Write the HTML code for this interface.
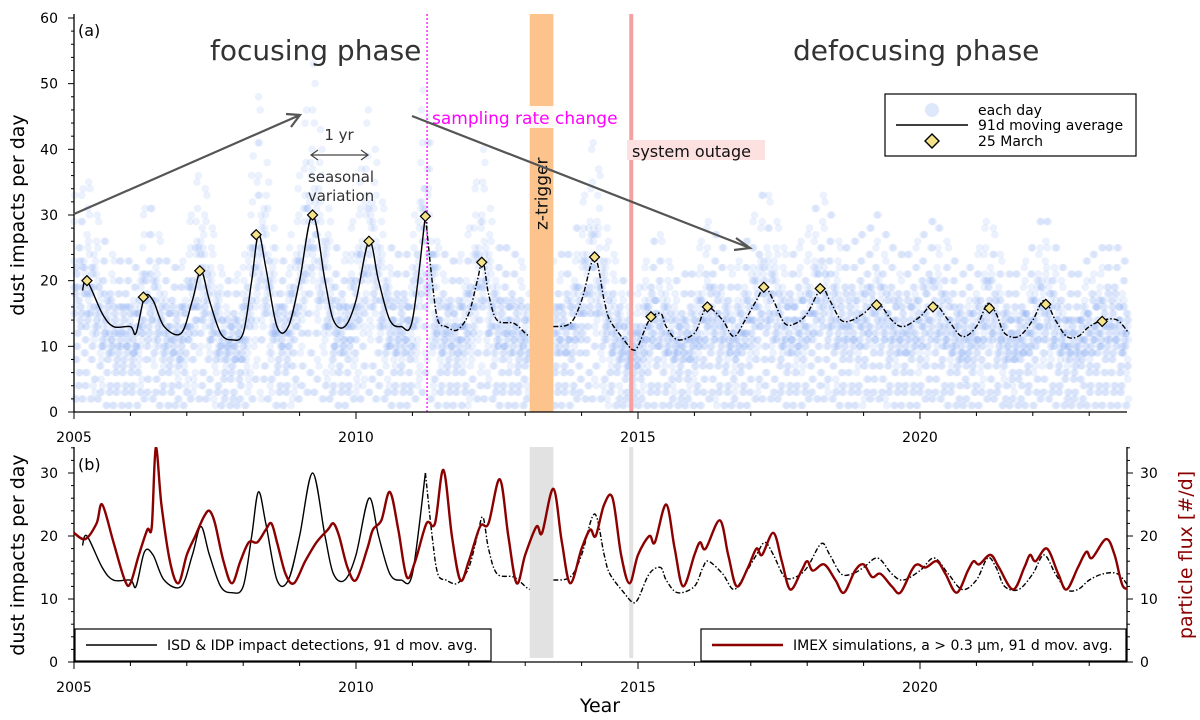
<!DOCTYPE html>
<html><head><meta charset="utf-8"><style>
html,body{margin:0;padding:0;background:#fff;}
svg{display:block;font-family:"DejaVu Sans","Liberation Sans",sans-serif;}
</style></head><body>
<svg id="chart" width="1200" height="720" viewBox="0 0 1200 720">
<g id="scatter"></g>
<g id="panelA"></g>
<g id="panelB"></g>
</svg>
<script>
// ---- data ----
const maYears = [2005.15,2005.23,2005.5,2005.7,2006.0,2006.1,2006.25,2006.4,2006.6,2006.9,2007.1,2007.25,2007.4,2007.6,2007.8,2008.0,2008.15,2008.27,2008.4,2008.6,2008.8,2009.0,2009.23,2009.45,2009.6,2009.8,2010.0,2010.23,2010.4,2010.6,2010.8,2011.0,2011.23,2011.35,2011.45,2011.6,2011.8,2012.0,2012.15,2012.25,2012.35,2012.5,2012.8,2013.0,2013.08,null,2013.5,2013.8,2014.0,2014.23,2014.4,2014.5,2014.75,2014.9,2015.0,2015.2,2015.4,2015.5,2015.7,2016.0,2016.15,2016.25,2016.5,2016.7,2016.9,2017.1,2017.25,2017.4,2017.6,2017.8,2018.0,2018.25,2018.4,2018.6,2018.8,2019.0,2019.25,2019.5,2019.7,2020.0,2020.25,2020.5,2020.75,2021.0,2021.2,2021.35,2021.5,2021.75,2022.0,2022.2,2022.4,2022.6,2022.8,2023.0,2023.25,2023.5,2023.7];
const maValues = [18.5,20,15,13,13,12,17.5,17,13,12,17,21.5,17,12,11,12,20,27,22,13,13,20,30,20,14,13,17,26,20,14,13,14,30,20,14,13,12.5,15,20,23,18,14,13.5,12,11.5,null,13,13.5,17,23.5,17,14,11,9.5,10,14,15,13,11,12,15,16,14,11.5,14,17,19,17,13.5,13.5,15,18.8,17,14,14,15,16.5,14,13,14.5,16.5,14,11.5,13,16.5,15,12,11.5,14,17,14,11.5,11.5,13,14,14,12];
const marchYears = [2005.23,2006.23,2007.23,2008.23,2009.23,2010.23,2011.23,2012.23,2014.23,2015.23,2016.23,2017.23,2018.23,2019.23,2020.23,2021.23,2022.23,2023.23];
const marchValues = [20,17.5,21.5,27,30,26,29.8,22.8,23.6,14.5,16,19,18.8,16.3,16,15.8,16.4,13.8];
const imexYears = [2005.0,2005.2,2005.4,2005.5,2005.7,2005.9,2006.0,2006.15,2006.3,2006.38,2006.45,2006.55,2006.7,2006.85,2007.0,2007.15,2007.3,2007.4,2007.5,2007.65,2007.8,2007.95,2008.1,2008.25,2008.4,2008.5,2008.6,2008.75,2008.9,2009.1,2009.3,2009.5,2009.6,2009.7,2009.85,2010.0,2010.2,2010.3,2010.45,2010.6,2010.75,2010.9,2011.05,2011.25,2011.4,2011.55,2011.7,2011.85,2012.0,2012.2,2012.35,2012.55,2012.7,2012.85,2013.0,2013.2,2013.3,2013.5,2013.65,2013.8,2014.0,2014.15,2014.25,2014.4,2014.55,2014.7,2014.85,2015.0,2015.2,2015.3,2015.5,2015.65,2015.8,2016.0,2016.1,2016.2,2016.45,2016.6,2016.75,2016.95,2017.1,2017.2,2017.4,2017.55,2017.7,2017.9,2018.0,2018.1,2018.3,2018.5,2018.65,2018.85,2019.0,2019.15,2019.3,2019.5,2019.65,2019.85,2019.95,2020.1,2020.3,2020.45,2020.65,2020.85,2020.95,2021.05,2021.25,2021.4,2021.65,2021.85,2021.95,2022.05,2022.25,2022.45,2022.6,2022.8,2022.95,2023.05,2023.3,2023.45,2023.6,2023.78];
const imexValues = [20.5,19.5,22,25,19,13,12.5,17,21,21.5,34,25,16,12.5,17,20,23,24,22,16,12.5,16,19,19,21,22,19,14,12.5,16,19,21,22,20,15,13,18,21,22.5,27,21,13.5,16,22,22,30.5,20,13,16,21.5,22,29,20,12.5,17,21.5,20.5,27.5,19,12.5,18,21,20,25,26,17,12.5,17,20,19,25,18,12,17,19,18,22.5,17,12,15,18,17,20.5,16,11.5,14.5,16,14.5,15.5,13,11,14.5,15.5,13.5,14,12,11,14.5,15.5,15,16,14,11,14.5,16,15.5,17,15,11.5,15,17,16,18,14,11.5,15,17.5,16.5,19.5,17,12,12];
const scatterFactors = [1.0,0.55,1.35,0.8,1.15,0.3,1.55,0.95,0.65,1.25,0.1,1.05,0.75,1.8,0.45,0.9,0.85,1.2,0.2,0.7];
const topTicks = [0,10,20,30,40,50,60];
const botTicks = [0,10,20,30];
const yearTicks = [2005,2010,2015,2020];

// ---- scales ----
const X0=74, PXY=56.4;
const xs = y => X0 + (y-2005)*PXY;
const yA = v => 412 - v*6.567;
const yB = v => 662 - v*6.3;
const NS="http://www.w3.org/2000/svg";
function mk(tag, attrs, parent, txt){const e=document.createElementNS(NS,tag);for(const k in attrs)e.setAttribute(k,attrs[k]);if(txt!==undefined)e.textContent=txt;parent.appendChild(e);return e;}
const A=document.getElementById('panelA'), B=document.getElementById('panelB'), S=document.getElementById('scatter');
function interp(y){for(let i=0;i<maYears.length-1;i++){const a=maYears[i],b=maYears[i+1];if(a===null||b===null)continue;if(y>=a&&y<=b){return maValues[i]+(maValues[i+1]-maValues[i])*(y-a)/(b-a);}}return null;}

// scatter points (daily counts)
let k=0;
for(let y=2005.0;y<2023.78;y+=1/73){
  let m=interp(Math.max(2005.15,y)); if(m===null){k++;continue;}
  for(let j=0;j<4;j++){
    const f=scatterFactors[(k*7+j*3)%scatterFactors.length];
    const v=Math.max(0,Math.round(m*f));
    const c=mk('circle',{cx:xs(y).toFixed(1),cy:yA(v).toFixed(1),r:3.8,fill:'rgb(90,140,240)','fill-opacity':0.12},S);
    
    
  }
  k++;
}

// ---- panel A decorations ----
let r=mk('rect',{x:xs(2013.08),y:14,width:xs(2013.5)-xs(2013.08),height:398,fill:'#fcc48c'},A);

r=mk('line',{x1:xs(2014.88),y1:14,x2:xs(2014.88),y2:412,stroke:'#f7a0a0','stroke-width':4},A);

r=mk('line',{x1:xs(2011.26),y1:14,x2:xs(2011.26),y2:412,stroke:'#ff00ff','stroke-width':1.3,'stroke-dasharray':'2,2'},A);


// axes A
mk('line',{x1:74,y1:14,x2:74,y2:412,stroke:'#000','stroke-width':1.3},A);
mk('line',{x1:74,y1:412,x2:1127,y2:412,stroke:'#000','stroke-width':1.3},A);
for(let v=0;v<=60;v+=2){mk('line',{x1:74-(v%10?3:6),y1:yA(v),x2:74,y2:yA(v),stroke:'#000','stroke-width':1},A);}
topTicks.forEach(v=>{const t=mk('text',{x:58,y:yA(v)+5,'text-anchor':'end','font-size':14},A,v);});
for(let y=2005;y<=2023;y++){mk('line',{x1:xs(y),y1:412,x2:xs(y),y2:412+(y%5?4:7),stroke:'#000','stroke-width':1},A);}
yearTicks.forEach(y=>{const t=mk('text',{x:xs(y),y:442,'text-anchor':'middle','font-size':14},A,y);});
let t=mk('text',{x:0,y:0,transform:'translate(24,215) rotate(-90)','text-anchor':'middle','font-size':19},A,'dust impacts per day');


// smooth line path builder (Catmull-Rom)
function smooth(pts){if(!pts.length)return '';let d='M'+pts[0][0].toFixed(1)+','+pts[0][1].toFixed(1);
  for(let i=0;i<pts.length-1;i++){const p0=pts[Math.max(0,i-1)],p1=pts[i],p2=pts[i+1],p3=pts[Math.min(pts.length-1,i+2)];
    const c1=[p1[0]+(p2[0]-p0[0])/6,p1[1]+(p2[1]-p0[1])/6],c2=[p2[0]-(p3[0]-p1[0])/6,p2[1]-(p3[1]-p1[1])/6];
    d+=`C${c1[0].toFixed(1)},${c1[1].toFixed(1)} ${c2[0].toFixed(1)},${c2[1].toFixed(1)} ${p2[0].toFixed(1)},${p2[1].toFixed(1)}`;}
  return d;}
function pathFor(ys,vs,yfun,from,to){let d='',seg=[];const flush=()=>{d+=smooth(seg);seg=[];};
  for(let i=0;i<ys.length;i++){if(ys[i]===null||ys[i]<from||ys[i]>to){flush();continue;}seg.push([xs(ys[i]),yfun(vs[i])]);}flush();return d;}
function drawMA(par,yfun,name){
  let p=mk('path',{d:pathFor(maYears,maValues,yfun,2005,2011.26),fill:'none',stroke:'#000','stroke-width':1.4},par);
  
  p=mk('path',{d:pathFor(maYears,maValues,yfun,2011.23,2024),fill:'none',stroke:'#000','stroke-width':1.4,'stroke-dasharray':'5,2,1.5,2'},par);
  
}
drawMA(A,yA,'moving-average-a');
marchYears.forEach((y,i)=>{const cx=xs(y),cy=yA(marchValues[i]);const d=mk('path',{d:`M${cx},${cy-5}L${cx+5},${cy}L${cx},${cy+5}L${cx-5},${cy}Z`,fill:'#f5e38a',stroke:'#000','stroke-width':1.2},A);});

// annotations A
function txt(par,x,y,s,attrs,name){const e=mk('text',Object.assign({x:x,y:y},attrs),par,s);return e;}
txt(A,78,36,'(a)',{'font-size':16},'panel-a-label');
txt(A,210,60,'focusing phase',{'font-size':28,fill:'#333'},'focusing-phase-label');
txt(A,793,60,'defocusing phase',{'font-size':28,fill:'#333'},'defocusing-phase-label');
mk('rect',{x:430,y:106,width:198,height:22,fill:'#fff','fill-opacity':0.9},A);
txt(A,432,124,'sampling rate change',{'font-size':17,fill:'#ff00ff'},'sampling-rate-label');
mk('rect',{x:627,y:140,width:138,height:20,fill:'#fde0e0'},A);
txt(A,632,157,'system outage',{'font-size':16,fill:'#111'},'system-outage-label');
txt(A,0,0,'z-trigger',{'font-size':17,transform:`translate(${xs(2013.29)+6},230) rotate(-90)`,fill:'#111'},'z-trigger-label');
txt(A,339,140,'1 yr',{'font-size':15,'text-anchor':'middle',fill:'#333'},'one-year-label');
mk('path',{d:'M311,155L368,155M318,150L311,155L318,160M361,150L368,155L361,160',stroke:'#444','stroke-width':1.2,fill:'none'},A);
txt(A,341,182,'seasonal',{'font-size':15,'text-anchor':'middle',fill:'#333'},'seasonal-label');
txt(A,341,201,'variation',{'font-size':15,'text-anchor':'middle',fill:'#333'},'variation-label');
mk('path',{d:'M74,214L300,115M286,114L300,115L291,127',stroke:'#555','stroke-width':2.2,fill:'none'},A);
mk('path',{d:'M412,116L750,248M736,238L750,248L734,250',stroke:'#555','stroke-width':2.2,fill:'none'},A);

// legend A
const LA=mk('g',{},A);
mk('rect',{x:885,y:94,width:251,height:62,fill:'#fff',stroke:'#000','stroke-width':1.2},LA);
mk('circle',{cx:932,cy:110,r:7,fill:'#dde8fb'},LA);
mk('line',{x1:896,y1:125,x2:968,y2:125,stroke:'#000','stroke-width':1.4},LA);
mk('path',{d:'M932,134L939,141L932,148L925,141Z',fill:'#f5e38a',stroke:'#000','stroke-width':1.4},LA);
txt(LA,978,115,'each day',{'font-size':14},'legend-each-day');
txt(LA,978,130,'91d moving average',{'font-size':14},'legend-moving-average');
txt(LA,978,146,'25 March',{'font-size':14},'legend-25-march');

// ---- panel B ----
mk('rect',{x:xs(2013.08),y:447,width:xs(2013.5)-xs(2013.08),height:211,fill:'#e2e2e2'},B);
mk('rect',{x:xs(2014.88)-2,y:447,width:4,height:211,fill:'#e2e2e2'},B);
mk('line',{x1:74,y1:447,x2:74,y2:662,stroke:'#000','stroke-width':1.3},B);
mk('line',{x1:1127,y1:447,x2:1127,y2:662,stroke:'#000','stroke-width':1.3},B);
mk('line',{x1:74,y1:662,x2:1127,y2:662,stroke:'#000','stroke-width':1.3},B);
for(let v=0;v<=34;v+=2){mk('line',{x1:74-(v%10?3:6),y1:yB(v),x2:74,y2:yB(v),stroke:'#000'},B);mk('line',{x1:1127,y1:yB(v),x2:1127+(v%10?3:6),y2:yB(v),stroke:'#000'},B);}
botTicks.forEach(v=>{txt(B,58,yB(v)+5,v,{'text-anchor':'end','font-size':14},'y-tick-label-b');txt(B,1140,yB(v)+5,v,{'font-size':14},'y2-tick-label');});
for(let y=2005;y<=2023;y++){mk('line',{x1:xs(y),y1:662,x2:xs(y),y2:662+(y%5?4:7),stroke:'#000'},B);}
yearTicks.forEach(y=>txt(B,xs(y),692,y,{'text-anchor':'middle','font-size':14},'x-tick-label-b'));
txt(B,0,0,'dust impacts per day',{transform:'translate(24,555) rotate(-90)','text-anchor':'middle','font-size':19},'y-axis-title-b');
txt(B,0,0,'particle flux [#/d]',{transform:'translate(1192,555) rotate(-90)','text-anchor':'middle','font-size':19,fill:'#8b0000'},'y2-axis-title');
txt(B,600,712,'Year',{'text-anchor':'middle','font-size':19},'x-axis-title');
txt(B,78,470,'(b)',{'font-size':16},'panel-b-label');
const clip=mk('clipPath',{id:'clipB'},B);mk('rect',{x:74,y:447,width:1053,height:215},clip);
const bLines=mk('g',{'clip-path':'url(#clipB)'},B);
drawMA(bLines,yB,'moving-average-b');
let ip=mk('path',{d:pathFor(imexYears,imexValues,yB,2005,2024),fill:'none',stroke:'#8b0000','stroke-width':2.4,'stroke-linejoin':'round'},bLines);

const LB=mk('g',{},B);
mk('rect',{x:75,y:629,width:416,height:32,fill:'#fff',stroke:'#000','stroke-width':1.2},LB);
mk('line',{x1:86,y1:645,x2:157,y2:645,stroke:'#000','stroke-width':1.4},LB);
txt(LB,167,650,'ISD & IDP impact detections, 91 d mov. avg.',{'font-size':14},'legend-isd');
const LC=mk('g',{},B);
mk('rect',{x:701,y:629,width:425,height:32,fill:'#fff',stroke:'#000','stroke-width':1.2},LC);
mk('line',{x1:712,y1:645,x2:783,y2:645,stroke:'#8b0000','stroke-width':2.4},LC);
txt(LC,793,650,'IMEX simulations, a > 0.3 µm, 91 d mov. avg.',{'font-size':14},'legend-imex');
</script>
</body></html>
